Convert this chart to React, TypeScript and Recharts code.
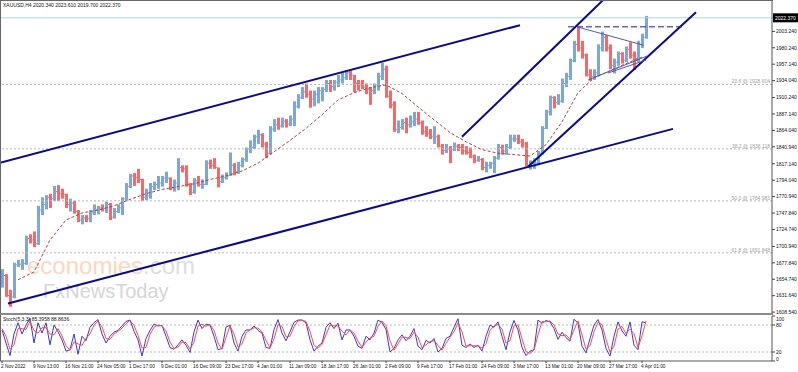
import React from "react";
import {
    ComposedChart,
    Bar,
    Line,
    XAxis,
    YAxis,
    ReferenceLine,
} from "recharts";

// 4 H4 bars per slot, one slot every 4px
const dateLabels = [
    "2 Nov 2022", "9 Nov 13:00", "16 Nov 21:00", "24 Nov 05:00", "1 Dec 17:00",
    "9 Dec 01:00", "16 Dec 09:00", "23 Dec 17:00", "4 Jan 01:00", "11 Jan 09:00",
    "18 Jan 17:00", "26 Jan 01:00", "2 Feb 09:00", "9 Feb 17:00", "17 Feb 01:00",
    "24 Feb 09:00", "3 Mar 17:00", "13 Mar 01:00", "20 Mar 09:00", "27 Mar 17:00",
    "4 Apr 01:00",
];

const opens = [
    1645, 1660, 1632, 1630, 1675, 1676, 1677, 1712,
    1710, 1705, 1752, 1760, 1770, 1768, 1778, 1775,
    1774, 1760, 1762, 1750, 1738, 1741, 1740, 1748,
    1753, 1755, 1754, 1760, 1742, 1750, 1755, 1768,
    1785, 1800, 1798, 1795, 1770, 1772, 1785, 1788,
    1790, 1797, 1797, 1783, 1790, 1812, 1810, 1790,
    1777, 1793, 1788, 1788, 1818, 1815, 1812, 1792,
    1798, 1800, 1815, 1806, 1815, 1823, 1838, 1840,
    1855, 1858, 1845, 1832, 1866, 1872, 1870, 1877,
    1873, 1880, 1898, 1910, 1918, 1915, 1908, 1915,
    1920, 1922, 1930, 1926, 1932, 1935, 1938, 1945,
    1942, 1930, 1928, 1925, 1922, 1920, 1928, 1940,
    1950, 1912, 1900, 1865, 1868, 1875, 1872, 1876,
    1880, 1875, 1862, 1860, 1855, 1855, 1842, 1836,
    1838, 1837, 1842, 1840, 1835, 1833, 1828, 1822,
    1823, 1812, 1815, 1818, 1825, 1840, 1835, 1840,
    1852, 1852, 1848, 1845, 1815, 1815, 1818, 1832,
    1867, 1890, 1910, 1903, 1905, 1930, 1940, 1962,
    1985, 1980, 1970, 1942, 1940, 1945, 1980, 1995,
    1980, 1955, 1960, 1972, 1963, 1978, 1970, 1965,
    1985, 1995,
];

const highs = [
    1669, 1662, 1640, 1678, 1682, 1683, 1716, 1718,
    1722, 1758, 1770, 1773, 1775, 1786, 1787, 1782,
    1775, 1768, 1765, 1752, 1745, 1745, 1752, 1760,
    1758, 1760, 1764, 1762, 1755, 1760, 1770, 1790,
    1803, 1804, 1810, 1796, 1782, 1790, 1792, 1800,
    1800, 1806, 1798, 1795, 1825, 1815, 1815, 1790,
    1797, 1800, 1795, 1822, 1823, 1825, 1812, 1802,
    1805, 1833, 1818, 1820, 1826, 1840, 1850, 1858,
    1865, 1860, 1848, 1870, 1880, 1882, 1882, 1880,
    1885, 1905, 1915, 1925, 1930, 1920, 1920, 1925,
    1925, 1935, 1935, 1935, 1942, 1945, 1949, 1948,
    1942, 1935, 1935, 1930, 1925, 1930, 1945, 1959,
    1955, 1920, 1905, 1878, 1880, 1882, 1885, 1890,
    1890, 1878, 1870, 1866, 1870, 1858, 1845, 1845,
    1842, 1847, 1845, 1845, 1842, 1840, 1830, 1828,
    1825, 1820, 1820, 1828, 1845, 1844, 1845, 1858,
    1858, 1858, 1852, 1848, 1822, 1825, 1835, 1870,
    1893, 1913, 1912, 1915, 1937, 1945, 1965, 1990,
    2009, 1990, 1972, 1950, 1950, 1985, 2003, 1998,
    1985, 1965, 1975, 1974, 1982, 1988, 1975, 1990,
    2000, 2025,
];

const lows = [
    1643, 1630, 1616, 1628, 1672, 1668, 1675, 1705,
    1700, 1703, 1745, 1753, 1755, 1765, 1765, 1768,
    1755, 1750, 1747, 1735, 1732, 1735, 1735, 1745,
    1746, 1750, 1748, 1738, 1740, 1748, 1745, 1765,
    1783, 1786, 1790, 1765, 1766, 1768, 1780, 1782,
    1785, 1790, 1780, 1778, 1780, 1805, 1785, 1773,
    1775, 1785, 1782, 1787, 1810, 1810, 1784, 1790,
    1795, 1800, 1801, 1803, 1812, 1820, 1832, 1838,
    1845, 1840, 1825, 1830, 1862, 1865, 1868, 1868,
    1870, 1870, 1895, 1908, 1910, 1896, 1898, 1902,
    1905, 1918, 1918, 1920, 1925, 1930, 1935, 1935,
    1918, 1920, 1922, 1915, 1900, 1915, 1920, 1935,
    1910, 1895, 1862, 1860, 1865, 1860, 1868, 1870,
    1872, 1858, 1855, 1852, 1845, 1840, 1830, 1832,
    1818, 1835, 1835, 1830, 1830, 1825, 1818, 1820,
    1808, 1805, 1810, 1804, 1823, 1830, 1830, 1838,
    1848, 1845, 1840, 1813, 1809, 1810, 1815, 1830,
    1866, 1885, 1895, 1900, 1903, 1925, 1935, 1960,
    1975, 1965, 1940, 1934, 1935, 1940, 1975, 1975,
    1950, 1944, 1955, 1958, 1960, 1965, 1949, 1960,
    1980, 1993,
];

const closes = [
    1660, 1632, 1630, 1675, 1676, 1677, 1712, 1710,
    1705, 1752, 1760, 1770, 1768, 1778, 1775, 1774,
    1760, 1762, 1750, 1738, 1741, 1740, 1748, 1753,
    1755, 1754, 1760, 1742, 1750, 1755, 1768, 1785,
    1800, 1798, 1795, 1770, 1772, 1785, 1788, 1790,
    1797, 1797, 1783, 1790, 1812, 1810, 1790, 1777,
    1793, 1788, 1788, 1818, 1815, 1812, 1792, 1798,
    1800, 1815, 1806, 1815, 1823, 1838, 1840, 1855,
    1858, 1845, 1832, 1866, 1872, 1870, 1877, 1873,
    1880, 1898, 1910, 1918, 1915, 1908, 1915, 1920,
    1922, 1930, 1926, 1932, 1935, 1938, 1945, 1942,
    1930, 1928, 1925, 1922, 1920, 1928, 1940, 1950,
    1912, 1900, 1865, 1868, 1875, 1872, 1876, 1880,
    1875, 1862, 1860, 1855, 1855, 1842, 1836, 1838,
    1837, 1842, 1840, 1835, 1833, 1828, 1822, 1823,
    1812, 1815, 1818, 1825, 1840, 1835, 1840, 1852,
    1852, 1848, 1845, 1815, 1815, 1818, 1832, 1867,
    1890, 1910, 1903, 1905, 1930, 1940, 1962, 1985,
    1980, 1970, 1942, 1940, 1945, 1980, 1995, 1980,
    1955, 1960, 1972, 1963, 1978, 1970, 1965, 1985,
    1995, 2022,
];

// moving average, one value every 4th slot
const maEvery4 = [
    null, 1654, 1665, 1710, 1738, 1748, 1752, 1758, 1767, 1775,
    1781, 1785, 1789, 1795, 1800, 1807, 1818, 1834, 1850, 1867,
    1886, 1907, 1917, 1924, 1928, 1916, 1897, 1879, 1861, 1848,
    1837, 1832, 1830, 1828, 1844, 1876, 1917, 1938, 1948, 1958,
    1967,
];

const stochMain = [
    69, 40, 12, 60, 85, 60, 80, 95, 40, 85, 62, 85, 36, 80, 65, 47,
    22, 25, 60, 15, 55, 45, 75, 85, 92, 60, 40, 55, 64, 68, 78, 88,
    91, 66, 47, 11, 50, 68, 82, 78, 79, 55, 30, 26, 36, 47, 35, 19,
    65, 91, 72, 82, 80, 55, 25, 28, 75, 80, 40, 22, 55, 69, 69, 78,
    68, 62, 30, 28, 70, 92, 62, 45, 65, 86, 91, 91, 85, 47, 22, 33,
    40, 75, 85, 72, 84, 47, 69, 69, 55, 33, 28, 55, 47, 62, 91, 86,
    70, 20, 28, 47, 58, 45, 55, 72, 33, 25, 46, 40, 50, 20, 28, 50,
    55, 75, 94, 35, 30, 38, 30, 35, 22, 55, 80, 75, 87, 55, 25, 65,
    90, 69, 30, 12, 22, 25, 91, 84, 90, 87, 72, 48, 64, 52, 44, 93,
    84, 33, 18, 50, 80, 92, 69, 28, 11, 55, 87, 67, 55, 87, 35, 25,
    87, 85,
];

const stochSignal = [
    72, 55, 26, 36, 72, 72, 70, 88, 68, 62, 74, 74, 60, 58, 72, 56,
    34, 24, 42, 38, 35, 50, 60, 80, 88, 76, 50, 48, 60, 66, 73, 83,
    90, 79, 57, 29, 30, 59, 75, 80, 78, 67, 42, 28, 31, 42, 41, 27,
    42, 78, 82, 77, 81, 68, 40, 26, 52, 78, 60, 31, 38, 62, 69, 74,
    73, 65, 46, 29, 49, 81, 77, 54, 55, 76, 89, 91, 88, 66, 35, 28,
    37, 58, 80, 78, 78, 66, 58, 69, 62, 44, 30, 42, 51, 55, 77, 89,
    78, 45, 24, 38, 53, 52, 50, 64, 53, 29, 36, 43, 45, 35, 24, 39,
    53, 65, 85, 65, 33, 34, 34, 33, 29, 38, 68, 78, 81, 71, 40, 45,
    78, 80, 50, 21, 17, 24, 58, 88, 87, 89, 80, 60, 56, 58, 48, 69,
    89, 58, 26, 34, 65, 86, 81, 48, 20, 33, 71, 77, 61, 71, 61, 30,
    56, 89,
];

const priceTicks = [
    2003.24, 1980.24, 1957.14, 1934.04, 1910.24, 1887.14, 1864.04, 1840.94,
    1817.14, 1794.04, 1770.94, 1747.84, 1724.74, 1700.94, 1677.84, 1654.74,
    1631.64, 1608.54,
];

const fibPcts = ["23.6", "38.2", "50.0", "61.8"];
const fibPrices = [1928.604, 1838.118, 1764.983, 1691.848];

const lastPrice = 2022.37;

const UP = "#7ea7d8";
const DOWN = "#f26a6a";
const NAVY = "#0a0a8c";
const FONT = "'Liberation Sans', Arial, sans-serif";

const bars = closes.map((c, i) => ({
    i,
    open: opens[i],
    high: highs[i],
    low: lows[i],
    close: c,
    ma: i % 4 === 0 ? maEvery4[i / 4] : null,
    k: stochMain[i],
    d: stochSignal[i],
}));

const dateTicks = dateLabels.map((_, k) => k * 8);

const OhlcBar = (props: any) => {
    const { x, y, width, height, payload } = props;
    if (!payload || x == null) return null;
    const top = Math.min(y, y + height);
    const bottom = Math.max(y, y + height);
    const span = payload.high - payload.low || 1;
    const toY = (v: number) =>
        top + ((payload.high - v) / span) * (bottom - top);
    const cx = Math.round(x + width / 2);
    const color = payload.close >= payload.open ? UP : DOWN;
    return (
        <g>
            <rect
                x={cx - 1}
                y={top}
                width={3}
                height={Math.max(1, bottom - top)}
                fill={color}
            />
            <rect x={cx - 2} y={toY(payload.open) - 0.5} width={1} height={1} fill={color} />
        </g>
    );
};

const PriceTick = ({ x, y, payload }: any) => (
    <text x={x} y={y + 1.8} fontSize={5} fill="#111" fontFamily={FONT}>
        {Number(payload.value).toFixed(3)}
    </text>
);

const StochTick = ({ x, y, payload }: any) => {
    const shift = payload.value === 100 ? 3 : payload.value === 0 ? -2 : 0;
    return (
        <text x={x} y={y + 1.8 + shift} fontSize={5} fill="#111" fontFamily={FONT}>
            {payload.value}
        </text>
    );
};

const DateTick = ({ x, y, payload }: any) => (
    <text x={x - 1} y={y + 4} fontSize={4.8} fill="#111" fontFamily={FONT}>
        {dateLabels[payload.value / 8]}
    </text>
);

const fibLabel = (text: string) => (props: any) => {
    const vb = props.viewBox;
    return (
        <text
            x={vb.x + vb.width - 2}
            y={vb.y - 1}
            textAnchor="end"
            fontSize={5}
            fill="#a0a0a0"
            fontFamily={FONT}
        >
            {text}
        </text>
    );
};

const priceTag = (props: any) => {
    const vb = props.viewBox;
    return (
        <g>
            <rect x={vb.x + vb.width + 1} y={vb.y - 4.5} width={25} height={9} fill="#000" />
            <text
                x={vb.x + vb.width + 3}
                y={vb.y + 1.8}
                fontSize={5}
                fill="#fff"
                fontFamily={FONT}
            >
                {lastPrice.toFixed(3)}
            </text>
        </g>
    );
};

const App = () => {
    return (
        <div
            style={{
                position: "absolute",
                left: 0,
                top: 0,
                width: 798,
                height: 372,
                background: "#fff",
                overflow: "hidden",
            }}
        >
            {/* watermark */}
            <svg
                width={798}
                height={372}
                style={{ position: "absolute", left: 0, top: 0 }}
            >
                <text x={27} y={274} fontSize={24} fontFamily={FONT}>
                    <tspan fill="#fcd6bf">economies</tspan>
                    <tspan fill="#dedede">.com</tspan>
                </text>
                <text x={43} y={298} fontSize={20} fill="#d6d6d6" fontFamily={FONT}>
                    FxNewsToday
                </text>
            </svg>

            <div style={{ position: "absolute", left: 0, top: 0 }}>
                <ComposedChart
                    width={798}
                    height={314}
                    data={bars}
                    margin={{ top: 1, right: 0, left: 0, bottom: 1 }}
                >
                    <XAxis
                        type="number"
                        dataKey="i"
                        domain={[-0.5, 192.5]}
                        allowDataOverflow
                        hide
                    />
                    <YAxis
                        orientation="right"
                        width={26}
                        domain={[1607.3, 2046]}
                        allowDataOverflow
                        ticks={priceTicks}
                        interval={0}
                        tick={<PriceTick />}
                        tickSize={3}
                        tickMargin={1}
                        tickLine={{ stroke: "#444" }}
                        axisLine={{ stroke: "#555" }}
                    />
                    {fibPrices.map((p, n) => (
                        <ReferenceLine
                            key={`fib-${n}`}
                            y={p}
                            stroke="#b8b8b8"
                            strokeDasharray="2 2"
                            label={fibLabel(`${fibPcts[n]} @ ${p.toFixed(3)}`)}
                        />
                    ))}
                    <ReferenceLine y={lastPrice} stroke="#a8d8ea" label={priceTag} />
                    <Bar
                        dataKey={(d: any) => [d.low, d.high]}
                        barSize={4}
                        shape={<OhlcBar />}
                        isAnimationActive={false}
                    />
                    <Line
                        dataKey="ma"
                        stroke="#a5473f"
                        strokeWidth={1}
                        strokeDasharray="3 2"
                        dot={false}
                        connectNulls
                        isAnimationActive={false}
                    />
                    {/* long channel */}
                    <ReferenceLine
                        segment={[{ x: -0.5, y: 1818.5 }, { x: 129.5, y: 2012.0 }]}
                        stroke={NAVY}
                        strokeWidth={2}
                        ifOverflow="hidden"
                    />
                    <ReferenceLine
                        segment={[{ x: 1.5, y: 1620.7 }, { x: 167.75, y: 1866.2 }]}
                        stroke={NAVY}
                        strokeWidth={2}
                        ifOverflow="hidden"
                    />
                    {/* steep channel */}
                    <ReferenceLine
                        segment={[{ x: 115, y: 1855.0 }, { x: 151, y: 2051.3 }]}
                        stroke={NAVY}
                        strokeWidth={2}
                        ifOverflow="hidden"
                    />
                    <ReferenceLine
                        segment={[{ x: 131.5, y: 1812.9 }, { x: 173.5, y: 2030.3 }]}
                        stroke={NAVY}
                        strokeWidth={2}
                        ifOverflow="hidden"
                    />
                    <ReferenceLine
                        segment={[{ x: 141.5, y: 2009.7 }, { x: 170.25, y: 2009.7 }]}
                        stroke="#1c1c96"
                        strokeDasharray="6 3"
                        ifOverflow="hidden"
                    />
                    {/* triangle */}
                    <ReferenceLine
                        segment={[{ x: 144, y: 2009.3 }, { x: 160.25, y: 1984.0 }]}
                        stroke="#5656b8"
                        ifOverflow="hidden"
                    />
                    <ReferenceLine
                        segment={[{ x: 146.5, y: 1934.9 }, { x: 161.25, y: 1968.6 }]}
                        stroke="#5656b8"
                        ifOverflow="hidden"
                    />
                    <ReferenceLine
                        segment={[{ x: 151.5, y: 1944.7 }, { x: 161, y: 1963.0 }]}
                        stroke="#5656b8"
                        ifOverflow="hidden"
                    />
                </ComposedChart>
            </div>

            <div style={{ position: "absolute", left: 0, top: 314 }}>
                <ComposedChart
                    width={798}
                    height={58}
                    data={bars}
                    margin={{ top: 2, right: 0, left: 0, bottom: 0 }}
                >
                    <XAxis
                        type="number"
                        dataKey="i"
                        domain={[-0.5, 192.5]}
                        allowDataOverflow
                        ticks={dateTicks}
                        interval={0}
                        height={11}
                        tick={<DateTick />}
                        tickSize={2}
                        tickMargin={1}
                        tickLine={{ stroke: "#444" }}
                        axisLine={{ stroke: "#555" }}
                    />
                    <YAxis
                        orientation="right"
                        width={26}
                        domain={[0, 100]}
                        ticks={[0, 20, 80, 100]}
                        interval={0}
                        tick={<StochTick />}
                        tickSize={3}
                        tickMargin={1}
                        tickLine={{ stroke: "#444" }}
                        axisLine={{ stroke: "#555" }}
                    />
                    <ReferenceLine y={80} stroke="#b8b8b8" strokeDasharray="2 2" />
                    <ReferenceLine y={20} stroke="#b8b8b8" strokeDasharray="2 2" />
                    <Line
                        dataKey="k"
                        stroke="#3a3ac4"
                        strokeWidth={1}
                        dot={false}
                        isAnimationActive={false}
                    />
                    <Line
                        dataKey="d"
                        stroke="#ff4a4a"
                        strokeWidth={1}
                        dot={false}
                        isAnimationActive={false}
                    />
                </ComposedChart>
            </div>

            {/* frame, separator and captions */}
            <svg
                width={798}
                height={372}
                style={{ position: "absolute", left: 0, top: 0, pointerEvents: "none" }}
            >
                <line x1={0.5} y1={0} x2={0.5} y2={361} stroke="#666" />
                <line x1={0} y1={0.5} x2={773} y2={0.5} stroke="#666" />
                <rect x={0} y={313} width={773} height={2} fill="#8a8a8a" />
                <text x={3} y={7} fontSize={5} fill="#111" fontFamily={FONT}>
                    XAUUSD,H4  2020.340 2023.610 2019.700 2022.370
                </text>
                <text x={3} y={321} fontSize={5} fill="#111" fontFamily={FONT}>
                    Stoch(5,3,3) 85.3958 88.8636
                </text>
            </svg>
        </div>
    );
};

export default App;
